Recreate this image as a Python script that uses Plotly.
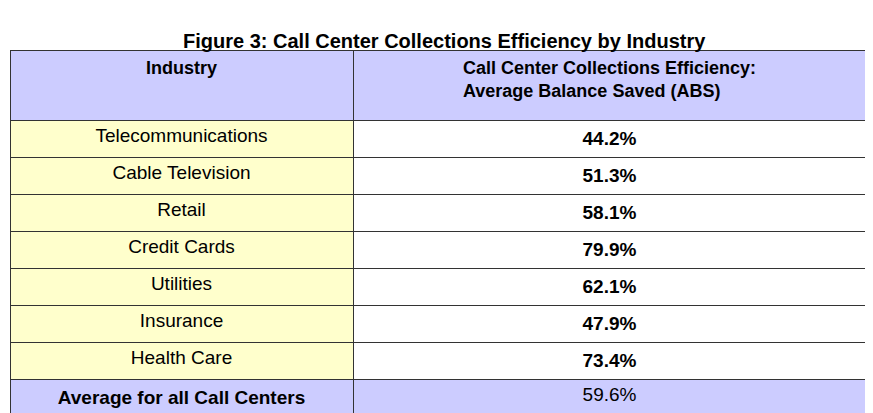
import plotly.graph_objects as go

industries = ["Telecommunications", "Cable Television", "Retail", "Credit Cards",
              "Utilities", "Insurance", "Health Care"]
abs_values = ["44.2%", "51.3%", "58.1%", "79.9%", "62.1%", "47.9%", "73.4%"]
average_label = "Average for all Call Centers"
average_value = "59.6%"

col1 = industries + ["<b>" + average_label + "</b>"]
col2 = ["<b>" + v + "</b>" for v in abs_values] + [average_value]

lav = "#ccccff"
yel = "#ffffcc"
n = len(industries)

fig = go.Figure(go.Table(
    columnwidth=[343, 513],
    header=dict(
        values=["<br><b>Industry</b>",
                "<b>Call Center Collections Efficiency:</b><br><b>Average Balance Saved (ABS)</b>"],
        fill_color=lav,
        line_color="#333333",
        align="center",
        height=70,
        font=dict(family="Liberation Sans, Arial", size=18, color="black"),
    ),
    cells=dict(
        values=[col1, col2],
        fill_color=[[yel] * n + [lav], ["white"] * n + [lav]],
        line_color="#333333",
        align="center",
        height=35,
        font=dict(family="Liberation Sans, Arial", size=19, color="black"),
    ),
    domain=dict(x=[2 / 873, 858 / 873], y=[0, 1 - 42 / 413]),
))

fig.update_layout(
    width=873, height=413,
    margin=dict(l=0, r=0, t=0, b=0),
    paper_bgcolor="white",
    annotations=[dict(
        text="<b>Figure 3: Call Center Collections Efficiency by Industry</b>",
        x=0.5, y=1 - 20 / 413, xref="paper", yref="paper",
        showarrow=False, font=dict(family="Liberation Sans, Arial", size=20, color="black"),
    )],
)

fig.write_html("out.html")
